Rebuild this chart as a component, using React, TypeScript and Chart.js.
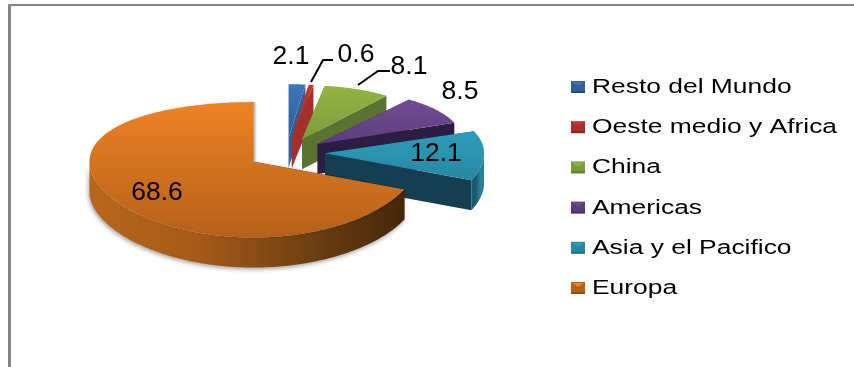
import React, { useEffect, useRef } from "react";
import { Chart, registerables } from "chart.js";

Chart.register(...registerables);

// Regional shares, in percent, clockwise from twelve o'clock.
const categories = [
  "Resto del Mundo",
  "Oeste medio y Africa",
  "China",
  "Americas",
  "Asia y el Pacifico",
  "Europa",
];
const shares = [2.1, 0.6, 8.1, 8.5, 12.1, 68.6];

// Slice colours: lit top face, shaded top face, radial wall, rim wall (left and right ends).
const topLight = ["#3d76b8", "#bd3a33", "#92b544", "#744c96", "#2c9dbb", "#ee8224"];
const topDark = ["#2f6099", "#a62f2b", "#7c9c39", "#5c3d7c", "#2a87a2", "#b4611a"];
const wallColors = ["#2f6099", "#a62f2b", "#5b7330", "#2c1d42", "#143f50", "#5a3210"];
const rimLeft = ["#2f6099", "#a62f2b", "#6a8535", "#3a2756", "#1a5a70", "#b8661c"];
const rimRight = ["#2f6099", "#a62f2b", "#5b7330", "#2c1d42", "#27809a", "#452809"];

// Horizontal foreshortening of each slice: those at the back of the disc read narrower.
const foreshorten = [0.78, 0.78, 0.82, 0.89, 0.97, 1];

// Label centres and leader lines for the callouts.
const labelSpots: [number, number][] = [
  [291, 57],
  [356, 55],
  [409, 67],
  [460, 92],
  [436, 154],
  [157, 193],
];
const leaders: [number, number][][] = [
  [[311, 82], [323, 60], [333, 60]],
  [[358, 85], [378, 71], [390, 71]],
];

const WIDTH = 854;
const HEIGHT = 367;
const PIE_X = 286;
const PIE_Y = 153;
const RADIUS = 164;
const EXPLODE = 39;
const DEPTH = 30;
const FRAME = "#868686";

// Tilted-disc projection: the front of the disc reads slightly larger than the back.
const project = (u: number, v: number): [number, number] => [
  PIE_X + u,
  PIE_Y + 0.4 * v + 0.0003 * v * v,
];

function rimPoints(arc: any, i: number, from: number, to: number): [number, number][] {
  const mid = (arc.startAngle + arc.endAngle) / 2;
  const ox = Math.cos(mid) * EXPLODE;
  const oy = Math.sin(mid) * EXPLODE;
  const steps = Math.max(2, Math.ceil(((to - from) * 180) / Math.PI));
  const pts: [number, number][] = [];
  for (let s = 0; s <= steps; s++) {
    const a = from + ((to - from) * s) / steps;
    pts.push(
      project(
        ox + arc.outerRadius * Math.cos(a) * foreshorten[i],
        oy + arc.outerRadius * Math.sin(a),
      ),
    );
  }
  return pts;
}

function apexOf(arc: any): [number, number] {
  const mid = (arc.startAngle + arc.endAngle) / 2;
  return project(Math.cos(mid) * EXPLODE, Math.sin(mid) * EXPLODE);
}

function fillPolygon(ctx: CanvasRenderingContext2D, pts: [number, number][], style: any) {
  ctx.beginPath();
  pts.forEach(([x, y], i) => (i ? ctx.lineTo(x, y) : ctx.moveTo(x, y)));
  ctx.closePath();
  ctx.fillStyle = style;
  ctx.fill();
}

function drawSlice(ctx: CanvasRenderingContext2D, arc: any, i: number) {
  const apex = apexOf(arc);
  const rim = rimPoints(arc, i, arc.startAngle, arc.endAngle);
  const down = ([x, y]: [number, number]): [number, number] => [x, y + DEPTH];

  // Radial walls.
  [rim[0], rim[rim.length - 1]].forEach((p) => {
    fillPolygon(ctx, [apex, p, down(p), down(apex)], wallColors[i]);
  });

  // Outer wall, only along the part of the rim that faces the viewer.
  const from = Math.max(arc.startAngle, 0);
  const to = Math.min(arc.endAngle, Math.PI);
  if (to > from) {
    const front = rimPoints(arc, i, from, to);
    const xs = front.map((p) => p[0]);
    const band = ctx.createLinearGradient(Math.min(...xs), 0, Math.max(...xs), 0);
    band.addColorStop(0, rimLeft[i]);
    band.addColorStop(0.35, i === 5 ? "#a55a18" : rimLeft[i]);
    band.addColorStop(0.7, i === 5 ? "#6e3f12" : rimRight[i]);
    band.addColorStop(1, rimRight[i]);
    ctx.save();
    if (i === 5) {
      ctx.shadowColor = "rgba(0,0,0,0.35)";
      ctx.shadowBlur = 4;
      ctx.shadowOffsetX = -1;
      ctx.shadowOffsetY = 2;
    }
    fillPolygon(ctx, [...front, ...front.slice().reverse().map(down)], band);
    ctx.restore();
  }

  // Top face.
  const ys = [apex, ...rim].map((p) => p[1]);
  const shade = ctx.createLinearGradient(0, Math.min(...ys), 0, Math.max(...ys));
  shade.addColorStop(0, topLight[i]);
  shade.addColorStop(1, topDark[i]);
  ctx.save();
  if (i === 5) {
    ctx.shadowColor = "rgba(0,0,0,0.3)";
    ctx.shadowBlur = 2;
    ctx.shadowOffsetX = 2;
  }
  fillPolygon(ctx, [apex, ...rim], shade);
  ctx.restore();
}

function stretchedText(
  ctx: CanvasRenderingContext2D,
  text: string,
  x: number,
  y: number,
  font: string,
  sx: number,
  align: CanvasTextAlign,
) {
  ctx.save();
  ctx.translate(x, y);
  ctx.scale(sx, 1);
  ctx.font = font;
  ctx.fillStyle = "#000";
  ctx.textAlign = align;
  ctx.textBaseline = "middle";
  ctx.fillText(text, 0, 0);
  ctx.restore();
}

const tiltedPie = {
  id: "tiltedPie",
  // The flat arcs are replaced by the extruded slices drawn below.
  beforeDatasetDraw: () => false,
  afterDatasetsDraw(chart: any) {
    const ctx: CanvasRenderingContext2D = chart.ctx;
    const arcs = chart.getDatasetMeta(0).data;
    arcs.forEach((arc: any, i: number) => drawSlice(ctx, arc, i));

    ctx.strokeStyle = "#000";
    ctx.lineWidth = 2;
    leaders.forEach((line) => {
      ctx.beginPath();
      line.forEach(([x, y], i) => (i ? ctx.lineTo(x, y) : ctx.moveTo(x, y)));
      ctx.stroke();
    });

    shares.forEach((value, i) => {
      const [x, y] = labelSpots[i];
      stretchedText(ctx, value.toFixed(1), x, y, "25px 'Liberation Sans'", 1.06, "center");
    });
  },
  afterDraw(chart: any) {
    const ctx: CanvasRenderingContext2D = chart.ctx;

    // Chart frame: left and top rules only.
    ctx.fillStyle = FRAME;
    ctx.fillRect(8, 4, 3, HEIGHT - 4);
    ctx.fillRect(8, 4, WIDTH - 8, 2);

    // Legend with bevelled swatches.
    categories.forEach((name, i) => {
      const y = 87 + i * 40.2;
      const top = y - 6;
      ctx.fillStyle = topDark[i];
      ctx.fillRect(571, top, 14, 12);
      ctx.fillStyle = topLight[i];
      ctx.beginPath();
      ctx.moveTo(572, top + 1);
      ctx.lineTo(584, top + 1);
      ctx.lineTo(578, top + 5);
      ctx.closePath();
      ctx.fill();
      ctx.fillStyle = "rgba(0,0,0,0.2)";
      ctx.fillRect(571, top + 10, 14, 2);
      stretchedText(ctx, name, 592, y + 0.5, "20px 'Liberation Sans'", 1.32, "left");
    });
  },
};

export default function App() {
  const canvasRef = useRef<HTMLCanvasElement>(null);

  useEffect(() => {
    const chart = new Chart(canvasRef.current!, {
      type: "pie",
      data: {
        labels: categories,
        datasets: [{ data: shares, backgroundColor: topDark, borderWidth: 0 }],
      },
      options: {
        animation: false,
        responsive: false,
        radius: RADIUS,
        layout: {
          padding: { left: 0, top: 0, right: WIDTH - 2 * PIE_X, bottom: HEIGHT - 2 * PIE_Y },
        },
        plugins: { legend: { display: false }, tooltip: { enabled: false } },
      },
      plugins: [tiltedPie],
    } as any);
    return () => chart.destroy();
  }, []);

  return (
    <canvas
      ref={canvasRef}
      width={WIDTH}
      height={HEIGHT}
      style={{ position: "absolute", left: 0, top: 0, display: "block", background: "#fff" }}
    />
  );
}
